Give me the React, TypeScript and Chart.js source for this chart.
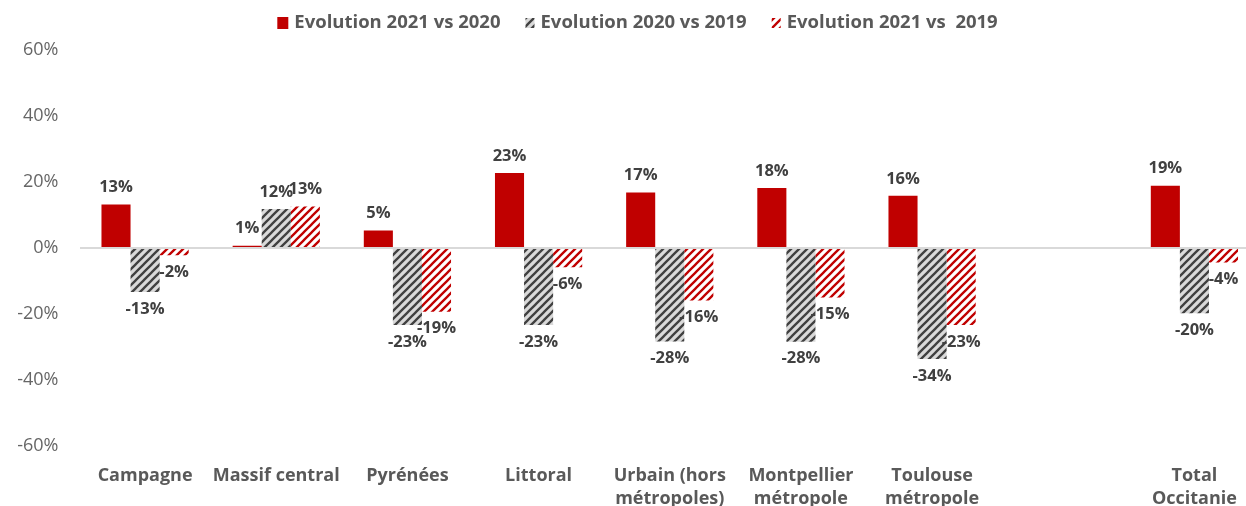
import React, { useEffect, useRef } from "react";
import { Chart, registerables } from "chart.js";

Chart.register(...registerables);

const categories: string[][] = [
  ["Campagne"],
  ["Massif central"],
  ["Pyrénées"],
  ["Littoral"],
  ["Urbain (hors", "métropoles)"],
  ["Montpellier", "métropole"],
  ["Toulouse", "métropole"],
  [""],
  ["Total", "Occitanie"],
];

const seriesNames = ["Evolution 2021 vs 2020", "Evolution 2020 vs 2019", "Evolution 2021 vs  2019"];

const evo2021vs2020 = [13.2, 0.7, 5.3, 22.7, 16.8, 18.2, 15.8, null, 18.9];
const evo2020vs2019 = [-13.3, 11.8, -23.3, -23.3, -28.3, -28.4, -33.6, null, -19.8];
const evo2021vs2019 = [-2.2, 12.6, -19.3, -5.8, -15.9, -15.0, -23.3, null, -4.4];

const yMin = -60;
const yMax = 60;
const yStep = 20;

const CW = 1260;
const CH = 520;
const FONT = '"Open Sans", "DejaVu Sans", sans-serif';

function makeStripe(bg: string, fg: string): CanvasPattern | string {
  const c = document.createElement("canvas");
  c.width = 8;
  c.height = 8;
  const g = c.getContext("2d");
  if (!g) return fg;
  g.fillStyle = bg;
  g.fillRect(0, 0, 8, 8);
  g.strokeStyle = fg;
  g.lineWidth = 2.3;
  g.lineCap = "square";
  g.beginPath();
  g.moveTo(0, 8);
  g.lineTo(8, 0);
  g.moveTo(-4, 4);
  g.lineTo(4, -4);
  g.moveTo(4, 12);
  g.lineTo(12, 4);
  g.stroke();
  const p = g.createPattern(c, "repeat");
  return p || fg;
}

const dataLabelPlugin = {
  id: "dataLabels",
  afterDatasetsDraw(chart: any) {
    const ctx = chart.ctx;
    ctx.save();
    ctx.font = `bold 16.5px ${FONT}`;
    ctx.fillStyle = "#404040";
    ctx.textAlign = "center";
    ctx.textBaseline = "middle";
    chart.data.datasets.forEach((ds: any, di: number) => {
      const meta = chart.getDatasetMeta(di);
      meta.data.forEach((el: any, i: number) => {
        const v = ds.data[i];
        if (v === null || v === undefined) return;
        const y = v >= 0 ? el.y - 17 : el.y + 17;
        ctx.fillText(Math.round(v) + "%", el.x, y);
      });
    });
    ctx.restore();
  },
};

const legendPlugin = {
  id: "customLegend",
  afterDraw(chart: any) {
    const ctx = chart.ctx;
    ctx.save();
    ctx.font = `bold 18.5px ${FONT}`;
    const items = chart.data.datasets.map((ds: any, i: number) => ({
      text: ds.label as string,
      fill: ds.backgroundColor,
      w: ctx.measureText(ds.label).width,
      bw: i === 0 ? 11 : 9,
      bh: i === 0 ? 12 : 10,
    }));
    const gapBT = 6;
    const gapItems = 25;
    const total =
      items.reduce((s: number, it: any) => s + it.bw + gapBT + it.w, 0) + gapItems * (items.length - 1);
    let x = 637.5 - total / 2;
    const cy = 23;
    items.forEach((it: any) => {
      ctx.fillStyle = it.fill;
      ctx.fillRect(x, cy - it.bh / 2, it.bw, it.bh);
      x += it.bw + gapBT;
      ctx.fillStyle = "#595959";
      ctx.textBaseline = "middle";
      ctx.textAlign = "left";
      ctx.fillText(it.text, x, cy);
      x += it.w + gapItems;
    });
    ctx.restore();
  },
};

export default function App() {
  const ref = useRef<HTMLCanvasElement | null>(null);

  useEffect(() => {
    const canvas = ref.current;
    if (!canvas) return;
    Chart.defaults.font.family = FONT;
    const grayHatch = makeStripe("#D9D9D9", "#404040");
    const redHatch = makeStripe("#FFFFFF", "#C00000");
    const chart = new Chart(canvas, {
      type: "bar",
      data: {
        labels: categories,
        datasets: [
          {
            label: seriesNames[0],
            data: evo2021vs2020,
            backgroundColor: "#C00000",
            borderWidth: 0,
            categoryPercentage: 0.665,
            barPercentage: 1,
          },
          {
            label: seriesNames[1],
            data: evo2020vs2019,
            backgroundColor: grayHatch as any,
            borderWidth: 0,
            categoryPercentage: 0.665,
            barPercentage: 1,
          },
          {
            label: seriesNames[2],
            data: evo2021vs2019,
            backgroundColor: redHatch as any,
            borderWidth: 0,
            categoryPercentage: 0.665,
            barPercentage: 1,
          },
        ],
      },
      options: {
        responsive: false,
        animation: false,
        layout: { padding: { top: 50, left: 0, right: 0, bottom: 0 } },
        plugins: {
          legend: { display: false },
          tooltip: { enabled: false },
        },
        scales: {
          x: {
            offset: true,
            grid: { display: false, drawTicks: false },
            border: { display: false },
            ticks: {
              autoSkip: false,
              maxRotation: 0,
              minRotation: 0,
              padding: 18,
              color: "#595959",
              font: { family: FONT, weight: "bold", size: 18, lineHeight: 23 / 18 },
            },
            afterFit: (s: any) => {
              s.height = CH - 446;
            },
          },
          y: {
            min: yMin,
            max: yMax,
            ticks: {
              stepSize: yStep,
              padding: 21,
              color: "#666666",
              font: { family: FONT, size: 18 },
              callback: (v: any) => v + "%",
            },
            grid: {
              drawTicks: false,
              lineWidth: 2,
              color: (c: any) => (c.tick && c.tick.value === 0 ? "#D9D9D9" : "rgba(0,0,0,0)"),
            },
            border: { display: false },
            afterFit: (s: any) => {
              s.width = 79.5;
            },
          },
        },
      } as any,
      plugins: [dataLabelPlugin, legendPlugin],
    });
    return () => chart.destroy();
  }, []);

  return (
    <div
      style={{
        position: "fixed",
        left: 0,
        top: 0,
        width: 1246,
        height: 506,
        overflow: "hidden",
        background: "#FFFFFF",
      }}
    >
      <canvas ref={ref} width={CW} height={CH} style={{ display: "block" }} />
    </div>
  );
}
